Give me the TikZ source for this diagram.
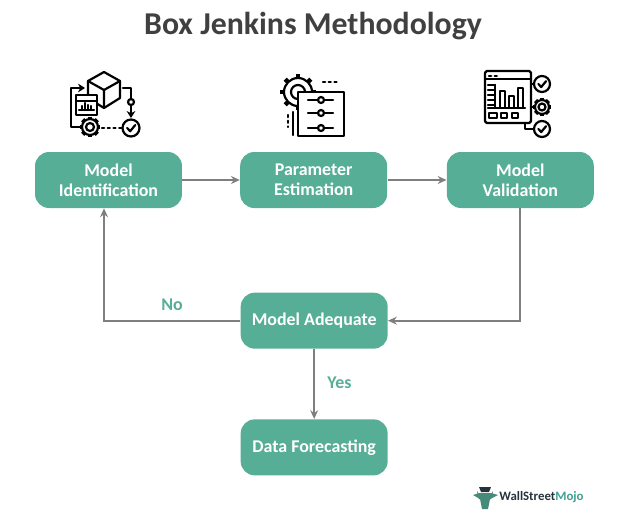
\documentclass[tikz,border=0pt]{standalone}
\usepackage{fontspec}
\setmainfont{Carlito}
\usepackage{xcolor}
\usetikzlibrary{positioning,calc,arrows.meta}
\definecolor{WSMGreen}{RGB}{87,174,151}
\definecolor{WSMText}{RGB}{64,64,64}
\definecolor{WSMGray}{RGB}{127,127,127}
\definecolor{WSMDark}{RGB}{38,50,62}
\tikzset{
    stepbox/.style={rectangle, rounded corners=0.28cm, fill=WSMGreen, text=white, minimum width=2.94cm, minimum height=1.12cm, inner sep=0pt, align=center, font=\bfseries\fontsize{10.2}{11.6}\selectfont},
    flow/.style={draw=WSMGray, line width=1pt, -{Stealth[length=5pt,width=4.5pt]}},
    answer/.style={text=WSMGreen, font=\bfseries\fontsize{10.2}{11}\selectfont, inner sep=0pt},
    icon/.style={draw=black, line width=1.25pt, line join=round, line cap=round}
}
% Banh rang: tam (x,y), ban kinh r
\newcommand{\gearmark}[3]{
    \foreach \a in {0,45,...,315} {
        \draw[icon, line width=2.6pt, line cap=butt] ($(#1,#2)+(\a:#3)$) -- ($(#1,#2)+(\a:#3*1.3)$);
    }
    \draw[icon, fill=white] (#1,#2) circle[radius=#3];
    \draw[icon] (#1,#2) circle[radius=#3*0.5];
}
% Vong tron co dau kiem
\newcommand{\tickmark}[3]{
    \draw[icon, fill=white] (#1,#2) circle[radius=#3];
    \draw[icon] ($(#1,#2)+(-#3*0.45,0)$) -- ($(#1,#2)+(-#3*0.1,#3*0.38)$) -- ($(#1,#2)+(#3*0.5,-#3*0.35)$);
}
\begin{document}
\begin{tikzpicture}[x=0.02cm, y=-0.02cm]
    \useasboundingbox (0,0) rectangle (624,518);

    % --- Tieu de ---
    \node[text=WSMText, font=\bfseries\fontsize{18.1}{22}\selectfont, inner sep=0pt] (title) at (313,26) {Box Jenkins Methodology};

    % --- Cac hop ---
    \node[stepbox] (ident) at (108.5,180) {Model\\Identification};
    \node[stepbox, right=1.15cm of ident] (param) {Parameter\\Estimation};
    \node[stepbox, right=1.18cm of param] (valid) {Model\\Validation};
    \node[stepbox, below=1.68cm of param, xshift=0.01cm] (adequate) {Model Adequate};
    \node[stepbox, below=1.4cm of adequate] (forecast) {Data Forecasting};

    % --- Duong noi ---
    \draw[flow] (ident) -- (param);
    \draw[flow] (param) -- (valid);
    \draw[flow] (valid.south) |- (adequate.east);
    \draw[flow] (adequate.west) -| ([xshift=-0.09cm]ident.south);
    \draw[flow] (adequate) -- (forecast);
    \node[answer] (no) at (172,305) {No};
    \node[answer] (yes) at (339.5,383) {Yes};

    % --- Bieu tuong 1 ---
    \draw[icon, fill=white] (104,72) -- (120,81) -- (120,98) -- (104,108) -- (88,98) -- (88,81) -- cycle;
    \draw[icon] (88,81) -- (104,90) -- (120,81) (104,90) -- (104,108);
    \draw[icon, fill=white] (76,95) rectangle (97,115);
    \draw[icon] (76,101) -- (97,101) (79,110) -- (94,110);
    \draw[icon] (82,110) -- (82,106) (85,110) -- (85,103) (88,110) -- (88,105) (91,110) -- (91,106);
    \draw[icon, -{Stealth[length=4pt,width=5pt]}] (80,127) -- (71,127) -- (71,88) -- (85,88);
    \draw[icon, -{Stealth[length=4pt,width=5pt]}] (123,88) -- (131,88) -- (131,118);
    \draw[icon, fill=white] (131,102) circle[radius=3];
    \gearmark{90}{127}{8}
    \draw[icon, dotted] (102,128) -- (122,128);
    \tickmark{131}{128}{8.5}

    % --- Bieu tuong 2 ---
    \gearmark{298}{92}{14}
    \draw[icon, fill=white, line width=1.5pt] (298,92) rectangle (344,136);
    \foreach \y in {100,113,128} {
        \draw[icon] (308,\y) -- (333,\y);
        \draw[icon, fill=white] (321,\y) circle[radius=3];
    }
    \draw[icon, dotted] (323,82) -- (338,82);
    \draw[icon] (293,112) -- (293,135);
    \draw[icon, dotted] (288,115) -- (288,127);

    % --- Bieu tuong 3 ---
    \draw[icon, rounded corners=1pt] (485,71) rectangle (531,123);
    \draw[icon] (485,79) -- (531,79);
    \draw[icon, dotted] (489,76) -- (498,76);
    \foreach \y in {85,90,95,100,105} {
        \draw[icon] (488,\y) -- (495,\y);
    }
    \draw[icon] (495,85) -- (495,108) (488,108) -- (525,108);
    \draw[icon] (500,108) -- (500,91) -- (505,91) -- (505,108);
    \draw[icon] (509,108) -- (509,96) -- (514,96) -- (514,108);
    \draw[icon] (518,108) -- (518,88) -- (523,88) -- (523,108);
    \draw[icon] (489,113) rectangle (497,118);
    \draw[icon] (501,113) rectangle (507,118);
    \draw[icon] (512,113) rectangle (518,118);
    \draw[icon] (531,84) -- (534,84) (531,107) -- (533,107) (525,123) -- (525,129) -- (534,129);
    \tickmark{542}{84}{8}
    \gearmark{542}{107}{7}
    \tickmark{542}{129}{8}

    % --- Logo ---
    \fill[WSMDark] (479,487) -- (491,487) -- (489,492) -- (481,492) -- cycle;
    \fill[WSMDark] (477,491) -- (480,497) -- (490,497) -- (493,491) -- (491,499) -- (479,499) -- cycle;
    \fill[WSMGreen!80!black] (473,495) -- (479,493) -- (491,493) -- (498,495) -- (490,499) -- (488,509) -- (482,509) -- (480,499) -- cycle;
    \node[font=\bfseries\fontsize{7.3}{9}\selectfont, inner sep=0pt, anchor=west] (logo) at (499,497) {\textcolor{WSMDark}{WallStreet}\textcolor{WSMGreen!70!teal}{Mojo}};
\end{tikzpicture}
\end{document}
